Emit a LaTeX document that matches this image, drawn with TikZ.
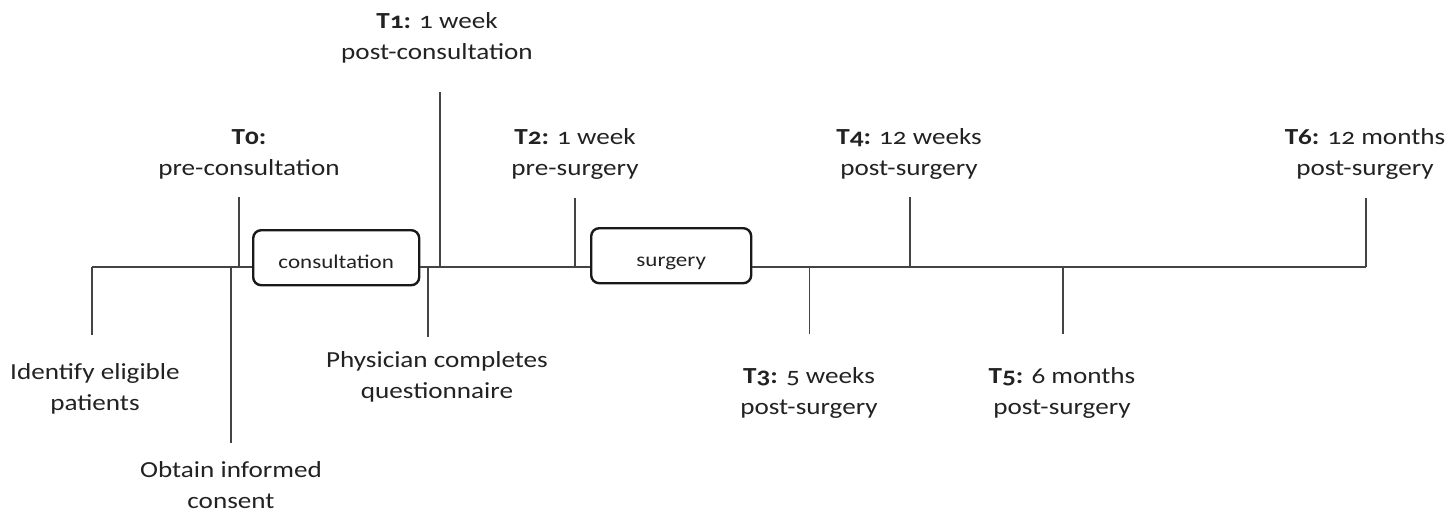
\documentclass[tikz,border=0pt]{standalone}
\usepackage{fontspec}
\setmainfont{Carlito}[Numbers=OldStyle, FakeStretch=1.18]
\newcommand{\twol}[2]{\vtop{\halign{\hfil##\hfil\cr#1\cr#2\cr}}}
\definecolor{txt}{HTML}{222222}
\definecolor{ln}{HTML}{444444}
\begin{document}
\begin{tikzpicture}[x=1pt,y=-1pt,
  lbl/.style={anchor=base, inner sep=0pt, text=txt, font=\fontsize{23}{31}\selectfont},
  phase/.style={draw=black!90, line width=2.4pt, rounded corners=8pt, fill=white, text=txt,
     font=\fontsize{19.5}{24}\selectfont, inner sep=0pt, anchor=north west,
     text height=21pt, text depth=0pt},
  axis/.style={draw=ln, line width=2pt},
  tick/.style={draw=ln, line width=1.4pt}]
\useasboundingbox (0,0) rectangle (1447,512);
% boxes
\node[phase, minimum width=166pt, minimum height=55pt] (cons) at (252,229) {consultation};
\node[phase, minimum width=160pt, minimum height=55pt] (surg) at (590,227) {surgery};
% main line coordinates
\coordinate (L0) at (92,266.5);
\coordinate (L1) at (1366,266.5);
\draw[axis] (L0) -- (cons.west |- L0);
\draw[axis] (cons.east |- L0) -- (surg.west |- L0);
\draw[axis] (surg.east |- L0) -- (L1);
% tick base points
\coordinate (bId) at (92,266.5);   \coordinate (eId) at (92,335);
\coordinate (bT0) at (239,266.5);  \coordinate (eT0) at (239,197);
\coordinate (bOb) at (231,266.5);  \coordinate (eOb) at (231,443);
\coordinate (bT1) at (440,266.5);  \coordinate (eT1) at (440,92);
\coordinate (bPh) at (428,266.5);  \coordinate (ePh) at (428,337);
\coordinate (bT2) at (575,266.5);  \coordinate (eT2) at (575,198);
\coordinate (bT3) at (809.5,266.5); \coordinate (eT3) at (809.5,334);
\coordinate (bT4) at (910,266.5);  \coordinate (eT4) at (910,197);
\coordinate (bT5) at (1063,266.5); \coordinate (eT5) at (1063,334);
\coordinate (bT6) at (1366,266.5); \coordinate (eT6) at (1366,198);
\foreach \n in {Id,T0,Ob,T1,Ph,T2,T3,T4,T5,T6} \draw[tick] (b\n) -- (e\n);
% labels
\node[lbl] (lT1) at (437,28) {\twol{\textbf{T1:} 1 week}{post-consultation}};
\node[lbl] (lT0) at (249,144) {\twol{\textbf{T0:}}{pre-consultation}};
\node[lbl] (lT2) at (575,144) {\twol{\textbf{T2:} 1 week}{pre-surgery}};
\node[lbl] (lT4) at (909,144) {\twol{\textbf{T4:} 12 weeks}{post-surgery}};
\node[lbl] (lT6) at (1365,144) {\twol{\textbf{T6:} 12 months}{post-surgery}};
\node[lbl] (lPh) at (437,367) {\twol{Physician completes}{questionnaire}};
\node[lbl] (lId) at (95,379) {\twol{Identify eligible}{patients}};
\node[lbl] (lOb) at (231,477) {\twol{Obtain informed}{consent}};
\node[lbl] (lT3) at (809,383) {\twol{\textbf{T3:} 5 weeks}{post-surgery}};
\node[lbl] (lT5) at (1062,383) {\twol{\textbf{T5:} 6 months}{post-surgery}};
\end{tikzpicture}
\end{document}
